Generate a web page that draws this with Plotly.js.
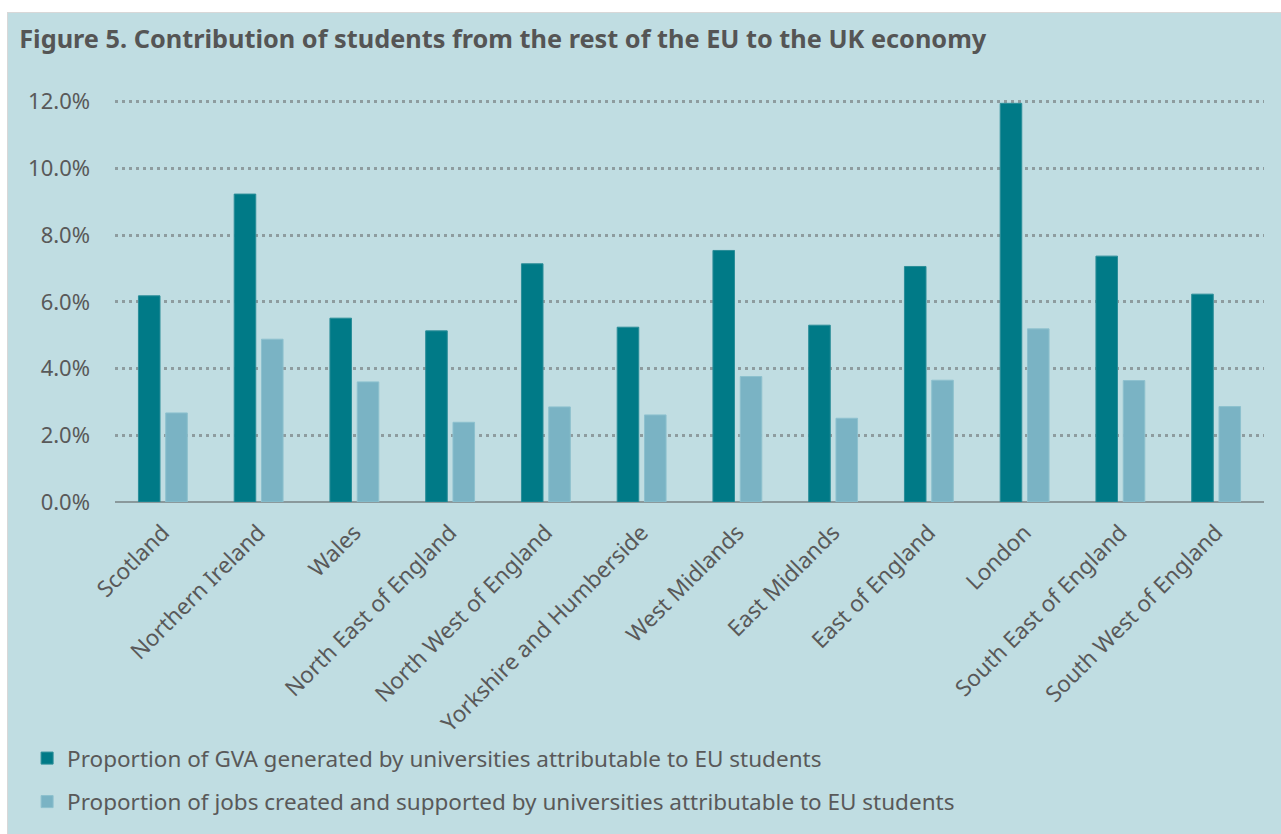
<!DOCTYPE html>
<html>
<head>
<meta charset="utf-8">
<script src="https://cdn.plot.ly/plotly-3.0.1.min.js"></script>
<style>
  html, body { margin: 0; padding: 0; background: #ffffff; width: 1281px; height: 834px; overflow: hidden; }
  #panel { position: absolute; left: 7px; top: 12px; width: 1274px; height: 822px;
           border-top: 1px solid #d8d8d8; border-left: 1px solid #d8d8d8; background: #C0DDE2; }
  #chart { width: 1273px; height: 821px; }
</style>
</head>
<body>
<div id="panel"><div id="chart"></div></div>
<script>
const regions = ["Scotland", "Northern Ireland", "Wales", "North East of England",
  "North West of England", "Yorkshire and Humberside", "West Midlands", "East Midlands",
  "East of England", "London", "South East of England", "South West of England"];
const gvaShare = [6.18, 9.23, 5.51, 5.13, 7.14, 5.24, 7.54, 5.30, 7.06, 11.95, 7.37, 6.23];
const jobsShare = [2.67, 4.88, 3.60, 2.39, 2.85, 2.61, 3.76, 2.51, 3.65, 5.19, 3.64, 2.86];
const seriesNames = ["Proportion of GVA generated by universities attributable to EU students",
  "Proportion of jobs created and supported by universities attributable to EU students"];
const yTicks = [0, 2, 4, 6, 8, 10, 12];
const yTickLabels = ["0.0%", "2.0%", "4.0%", "6.0%", "8.0%", "10.0%", "12.0%"];

const FONT = "'Segoe UI', 'Noto Sans', 'Open Sans', sans-serif";
const TXT = "#595959";

const traces = [
  { type: "bar", x: regions, y: gvaShare, name: seriesNames[0], legend: "legend",
    marker: { color: "#007A87", line: { color: "#2A8D98", width: 1 } }, hoverinfo: "x+y" },
  { type: "bar", x: regions, y: jobsShare, name: seriesNames[1], legend: "legend2",
    marker: { color: "#7AB3C4", line: { color: "#8DC0CE", width: 1 } }, hoverinfo: "x+y" }
];

const layout = {
  width: 1273, height: 821,
  paper_bgcolor: "#C0DDE2", plot_bgcolor: "#C0DDE2",
  margin: { l: 107, r: 17, t: 87, b: 332, autoexpand: false },
  font: { family: FONT, color: TXT, size: 22 },
  title: { text: "<b>Figure 5. Contribution of students from the rest of the EU to the UK economy</b>",
    x: 0.0088, xanchor: "left", xref: "container", y: 0.968, yanchor: "middle", yref: "container",
    font: { family: FONT, size: 25.3, color: "#555555" } },
  barmode: "group", bargap: 0.43, bargroupgap: 0.21,
  xaxis: { type: "category", tickangle: -45, showgrid: false, ticks: "", showline: false,
    ticklabelstandoff: 12,
    tickfont: { family: FONT, size: 22.5, color: TXT }, fixedrange: true },
  yaxis: { range: [0, 12.05], tickvals: yTicks, ticktext: yTickLabels, showgrid: true,
    gridcolor: "#8E9C9F", gridwidth: 2.5, griddash: "3px,4px",
    zeroline: true, zerolinecolor: "#8A999C", zerolinewidth: 2, showline: false,
    ticklabelstandoff: 24, tickfont: { family: FONT, size: 22, color: TXT }, fixedrange: true },
  showlegend: true,
  legend: { xref: "container", yref: "container", x: 0.015, y: 0.092, xanchor: "left", yanchor: "middle",
    bgcolor: "rgba(0,0,0,0)", font: { family: FONT, size: 22.5, color: TXT } },
  legend2: { xref: "container", yref: "container", x: 0.015, y: 0.039, xanchor: "left", yanchor: "middle",
    bgcolor: "rgba(0,0,0,0)", font: { family: FONT, size: 22.5, color: TXT } }
};

Plotly.newPlot("chart", traces, layout, { displayModeBar: false, responsive: false });
</script>
</body>
</html>
